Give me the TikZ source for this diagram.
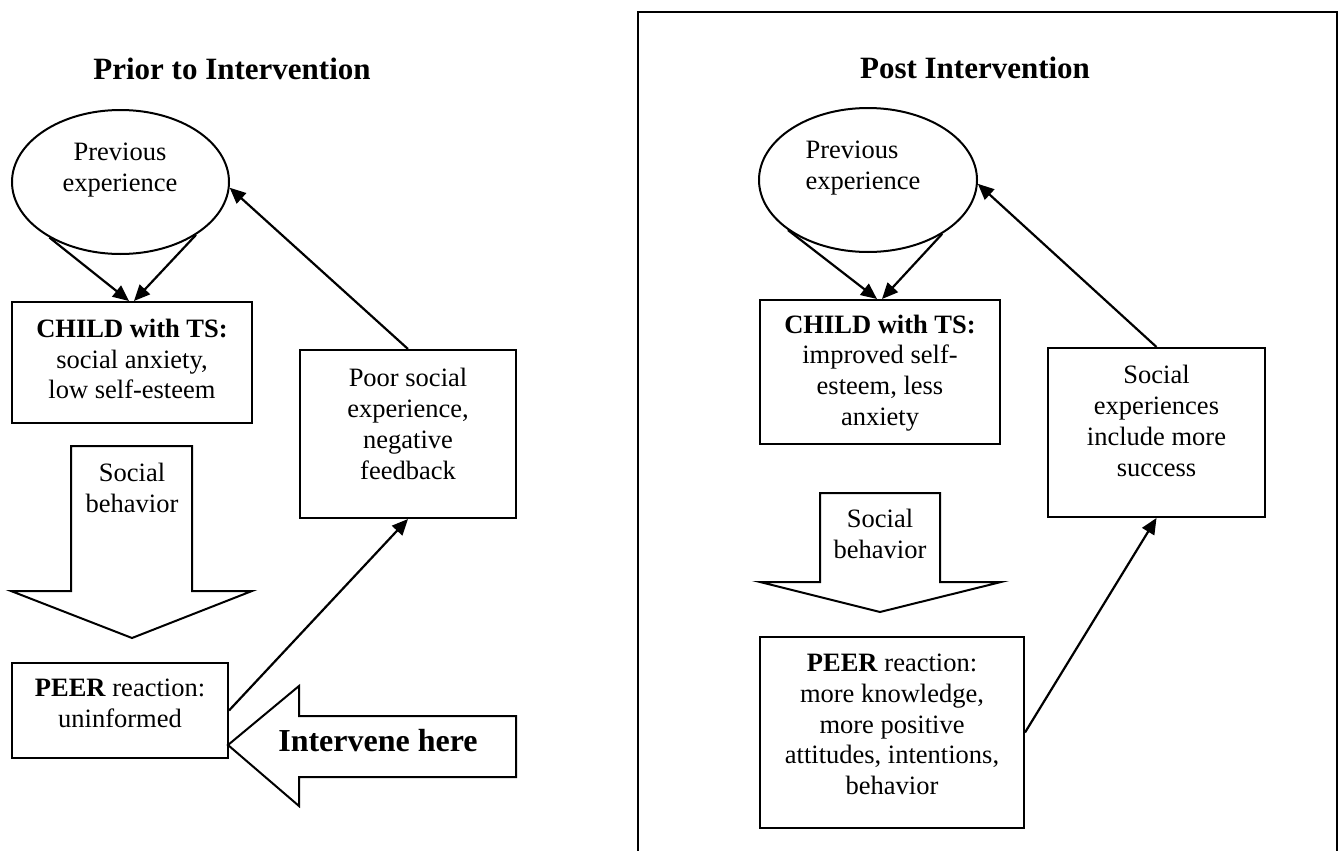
\documentclass[tikz,border=0pt]{standalone}
\usepackage{fontspec}
\setmainfont{Liberation Serif}
\usetikzlibrary{shapes.geometric, arrows.meta, positioning}

\begin{document}
\begin{tikzpicture}[
        x=0.5pt, y=-0.5pt,
        % --- Style Definitions ---
        body_text/.style={font=\fontsize{13.25pt}{15.4pt}\selectfont, align=center, inner sep=0pt},
        title_style/.style={font=\fontsize{15.5pt}{18pt}\selectfont\bfseries, anchor=base, inner sep=0pt},
        box_style/.style={rectangle, draw=black, line width=1pt, inner sep=0pt},
        oval_style/.style={ellipse, draw=black, line width=1pt, inner sep=0pt},
        link/.style={-{Triangle[length=8pt, width=7pt]}, line width=1.1pt},
        block_arrow/.style={draw=black, line width=1pt, line join=miter},
        frame_style/.style={draw=black, line width=1.1pt}
    ]

        \useasboundingbox (0,0) rectangle (1344,851);

        %################################################################
        %### Prior to Intervention ######################################
        %################################################################

        \node[title_style] (title_prior) at (232,79) {Prior to Intervention};

        % --- Cycle nodes (frame, then text) ---
        \node[oval_style, minimum width=108.5pt, minimum height=72pt] (prev_a) at (120.5,182) {};
        \node[body_text] (prev_a_txt) at (120,170) {Previous\\experience};

        \node[box_style, minimum width=120pt, minimum height=60.5pt] (child_a) at (132,362.5) {};
        \node[body_text] (child_a_txt) at (132,359) {\textbf{CHILD with TS:}\\social anxiety,\\low self-esteem};

        \node[box_style, minimum width=108pt, minimum height=84pt] (poor_a) at (408,434) {};
        \node[body_text] (poor_a_txt) at (408,424) {Poor social\\experience,\\negative\\feedback};

        \node[box_style, minimum width=108pt, minimum height=47.5pt] (peer_a) at (120,710.5) {};
        \node[body_text] (peer_a_txt) at (120,703) {\textbf{PEER} reaction:\\uninformed};

        % --- Block arrows ---
        \draw[block_arrow] (71,446) -- (192,446) -- (192,591) -- (252,591) -- (132,638) -- (11,591) -- (71,591) -- cycle;
        \node[body_text] (behav_a) at (132,488) {Social\\behavior};

        \draw[block_arrow] (228,745) -- (299,686) -- (299,716) -- (516,716) -- (516,777) -- (299,777) -- (299,806) -- cycle;
        \node[font=\fontsize{16pt}{19pt}\selectfont\bfseries, inner sep=0pt] (intervene) at (378,741) {Intervene here};

        % --- Data Flow Arrows ---
        \draw[link] (prev_a.218) -- ([xshift=-1.5pt]child_a.north);
        \draw[link] (prev_a.-35) -- ([xshift=1pt]child_a.north);
        \draw[link] (poor_a.north) -- (prev_a.-3);
        \draw[link] (peer_a.east) -- (poor_a.south);

        %################################################################
        %### Post Intervention ##########################################
        %################################################################

        \draw[frame_style] (638,851) -- (638,12) -- (1337,12) -- (1337,851);

        \node[title_style] (title_post) at (975,78) {Post Intervention};

        % --- Cycle nodes (frame, then text) ---
        \node[oval_style, minimum width=109pt, minimum height=72pt] (prev_b) at (868,180) {};
        \node[body_text, align=left] (prev_b_txt) at (863,168) {Previous\\experience};

        \node[box_style, minimum width=120pt, minimum height=72pt] (child_b) at (880,372) {};
        \node[body_text] (child_b_txt) at (880,373) {\textbf{CHILD with TS:}\\improved self-\\esteem, less\\anxiety};

        \node[box_style, minimum width=108.5pt, minimum height=84.5pt] (succ_b) at (1156.5,432.5) {};
        \node[body_text] (succ_b_txt) at (1156.5,421) {Social\\experiences\\include more\\success};

        \node[box_style, minimum width=132pt, minimum height=95.5pt] (peer_b) at (892,732.5) {};
        \node[body_text] (peer_b_txt) at (892,724.5) {\textbf{PEER} reaction:\\more knowledge,\\more positive\\attitudes, intentions,\\behavior};

        % --- Block arrow ---
        \draw[block_arrow] (820,493) -- (940,493) -- (940,582) -- (1001,582) -- (880,612) -- (760,582) -- (820,582) -- cycle;
        \node[body_text] (behav_b) at (880,534) {Social\\behavior};

        % --- Data Flow Arrows ---
        \draw[link] (prev_b.212) -- ([xshift=-1.5pt]child_b.north);
        \draw[link] (prev_b.-36) -- ([xshift=1pt]child_b.north);
        \draw[link] (succ_b.north) -- (prev_b.-2);
        \draw[link] (peer_b.east) -- (succ_b.south);

\end{tikzpicture}
\end{document}
